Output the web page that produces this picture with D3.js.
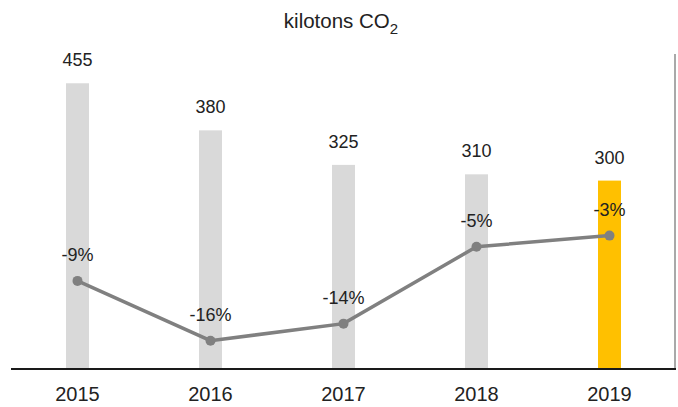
<!DOCTYPE html>
<html>
<head>
<meta charset="utf-8">
<script src="https://cdn.jsdelivr.net/npm/d3@7"></script>
<style>
  html, body { margin: 0; padding: 0; background: #fff; }
  svg { display: block; }
  text { font-family: "Liberation Sans", Arial, sans-serif; fill: #222; }
</style>
</head>
<body>
<svg id="chart" width="678" height="407"></svg>
<script>
// ---- data ----
const years = ["2015", "2016", "2017", "2018", "2019"];
const emissions = [455, 380, 325, 310, 300];
const changePct = [-9, -16, -14, -5, -3.7];
const changeLabels = ["-9%", "-16%", "-14%", "-5%", "-3%"];
const highlightYear = "2019";
const titleText = "kilotons CO";
const titleSub = "2";

// ---- layout ----
const W = 678, H = 407;
const plot = { left: 11, right: 676, top: 55, bottom: 369 };

const svg = d3.select("#chart");

const x = d3.scaleBand()
  .domain(years)
  .range([plot.left, plot.right])
  .paddingInner(110 / 133)
  .paddingOuter(55 / 133);

const yBar = d3.scaleLinear().domain([0, 500]).range([plot.bottom, plot.top]);
const yLine = d3.scaleLinear().domain([-20, 0]).range([374.9, 204]);

const rows = years.map((yr, i) => ({ yr, v: emissions[i], p: changePct[i], pl: changeLabels[i] }));

// right frame line
svg.append("line")
  .attr("x1", 675).attr("x2", 675)
  .attr("y1", plot.top - 1).attr("y2", plot.bottom)
  .attr("stroke", "#8c8c8c").attr("stroke-width", 1.5);

// bars
svg.append("g").selectAll("rect").data(rows).join("rect")
  .attr("x", d => x(d.yr))
  .attr("width", x.bandwidth())
  .attr("y", d => yBar(d.v))
  .attr("height", d => yBar(0) - yBar(d.v))
  .attr("fill", d => d.yr === highlightYear ? "#ffc000" : "#d9d9d9");

// bar value labels
svg.append("g").selectAll("text").data(rows).join("text")
  .attr("x", d => x(d.yr) + x.bandwidth() / 2)
  .attr("y", d => yBar(d.v) - 17)
  .attr("text-anchor", "middle")
  .attr("font-size", 18)
  .text(d => d.v);

// x axis
const xAxis = d3.axisBottom(x).tickSize(0).tickPadding(0);
const gx = svg.append("g").attr("transform", `translate(0,${plot.bottom})`).call(xAxis);
gx.select(".domain").attr("stroke", "#1a1a1a").attr("stroke-width", 2.2)
  .attr("d", `M${plot.left},0H${plot.right}`);
gx.selectAll(".tick text")
  .attr("font-family", "Liberation Sans, Arial, sans-serif")
  .attr("font-size", 20)
  .attr("fill", "#222")
  .attr("dy", null)
  .attr("y", 32);

// line
const cx = d => x(d.yr) + x.bandwidth() / 2;
svg.append("path").datum(rows)
  .attr("fill", "none")
  .attr("stroke", "#808080")
  .attr("stroke-width", 3.5)
  .attr("d", d3.line().x(cx).y(d => yLine(d.p)));

svg.append("g").selectAll("circle").data(rows).join("circle")
  .attr("cx", cx)
  .attr("cy", d => yLine(d.p))
  .attr("r", 5)
  .attr("fill", "#808080");

svg.append("g").selectAll("text").data(rows).join("text")
  .attr("x", cx)
  .attr("y", d => yLine(d.p) - 20)
  .attr("text-anchor", "middle")
  .attr("font-size", 18)
  .text(d => d.pl);

// title
const t = svg.append("text")
  .attr("x", 341)
  .attr("y", 28)
  .attr("text-anchor", "middle")
  .attr("font-size", 20.5);
t.append("tspan").text(titleText);
t.append("tspan").attr("font-size", 15).attr("dy", 6).text(titleSub);
</script>
</body>
</html>
